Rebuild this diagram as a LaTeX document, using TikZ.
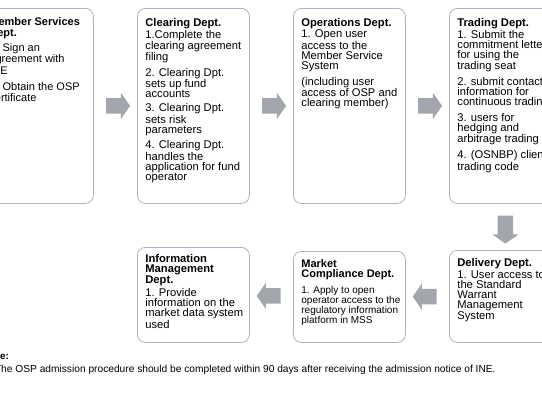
\documentclass[tikz,border=0pt]{standalone}
\usepackage{fontspec}
\setmainfont{Liberation Sans}
\usetikzlibrary{shapes.arrows,calc}
\definecolor{boxline}{HTML}{A9B2BC}
\definecolor{arrowfill}{HTML}{A3A6AC}
% text block of a department box: height, first baseline, lines
\newcommand{\deptbox}[3]{\parbox[c][#1][t]{96pt}{\rightskip=-20pt plus 1fil\rule{0pt}{#2}#3}}
\newcommand{\depthead}[1]{{\bfseries #1}}
\begin{document}
\begin{tikzpicture}[x=1pt,y=-1pt,
	dept/.style={draw=boxline,line width=0.8pt,rounded corners=8pt,inner xsep=8pt,inner ysep=0pt,anchor=north west,font=\fontsize{11.2}{10}\selectfont},
	flowarrow/.style={single arrow,fill=arrowfill,draw=none,inner sep=7.5pt,single arrow head extend=5.5pt,single arrow tip angle=110,minimum height=24pt}]
		\useasboundingbox (0,0) rectangle (542,408);
		\clip (0,0) rectangle (542,408);
		% first row
		\node[dept,font=\fontsize{11}{11.5}\selectfont] (member) at (-19,8) {\deptbox{195pt}{16.6pt}{\depthead{Member Services\\Dept.}\\[3pt]1. Sign an\\agreement with\\INE\\[4.5pt]2. Obtain the OSP\\certificate}};
		\node[dept] (clearing) at (137,8) {\deptbox{195pt}{17.6pt}{\depthead{Clearing Dept.}\\[0.6pt]1.Complete the\\clearing agreement\\filing\\[4pt]2. Clearing Dpt.\\sets up fund\\accounts\\[4pt]3. Clearing Dpt.\\sets risk\\parameters\\[4pt]4. Clearing Dpt.\\handles the\\application for fund\\operator}};
		\node[dept] (operations) at (293,8) {\deptbox{195pt}{17.6pt}{\depthead{Operations Dept.}\\[0.6pt]1. Open user\\access to the\\Member Service\\System\\[4.5pt](including user\\access of OSP and\\clearing member)}};
		\node[dept] (trading) at (449,8) {\deptbox{195pt}{17.6pt}{\depthead{Trading Dept.}\\[0.6pt]1. Submit the\\commitment letter\\for using the\\trading seat\\[4.5pt]2. submit contact\\information for\\continuous trading\\[4.5pt]3. users for\\hedging and\\arbitrage trading\\[4.5pt]4. (OSNBP) client\\trading code}};
		% second row
		\node[dept] (delivery) at (449,250) {\deptbox{92pt}{16pt}{\depthead{Delivery Dept.}\\[1.3pt]1. User access to\\the Standard\\Warrant\\Management\\System}};
		\node[dept,font=\fontsize{10}{10}\selectfont] (market) at (293,251) {\deptbox{91pt}{15.6pt}{{\fontsize{11}{10}\selectfont\depthead{Market\\Compliance Dept.}}\\[6.5pt]1. Apply to open\\operator access to the\\regulatory information\\platform in MSS}};
		\node[dept] (info) at (137,247) {\deptbox{95pt}{15.2pt}{\depthead{Information\\Management\\Dept.}\\[1.7pt]1. Provide\\information on the\\market data system\\used}};
		% arrows between the steps
		\node[flowarrow] (a1) at ($(member.east)!.5!(clearing.west)$) {};
		\node[flowarrow] (a2) at ($(clearing.east)!.5!(operations.west)$) {};
		\node[flowarrow] (a3) at ($(operations.east)!.5!(trading.west)$) {};
		\node[flowarrow,shape border rotate=270,minimum height=28pt] (a4) at ($(trading.south)!.5!(delivery.north)$) {};
		\node[flowarrow,shape border rotate=180] (a5) at ($(market.east)!.5!(delivery.west)$) {};
		\node[flowarrow,shape border rotate=180] (a6) at ($(info.east)!.5!(market.west)$) {};
		% note
		\node[anchor=base west,inner sep=0pt,font=\bfseries\fontsize{10}{12}\selectfont] (notehead) at (-16.7,359.5) {Note:};
		\node[anchor=base west,inner sep=0pt,font=\fontsize{10.2}{12}\selectfont] (notetext) at (-5.2,372.5) {The OSP admission procedure should be completed within 90 days after receiving the admission notice of INE.};
\end{tikzpicture}
\end{document}
